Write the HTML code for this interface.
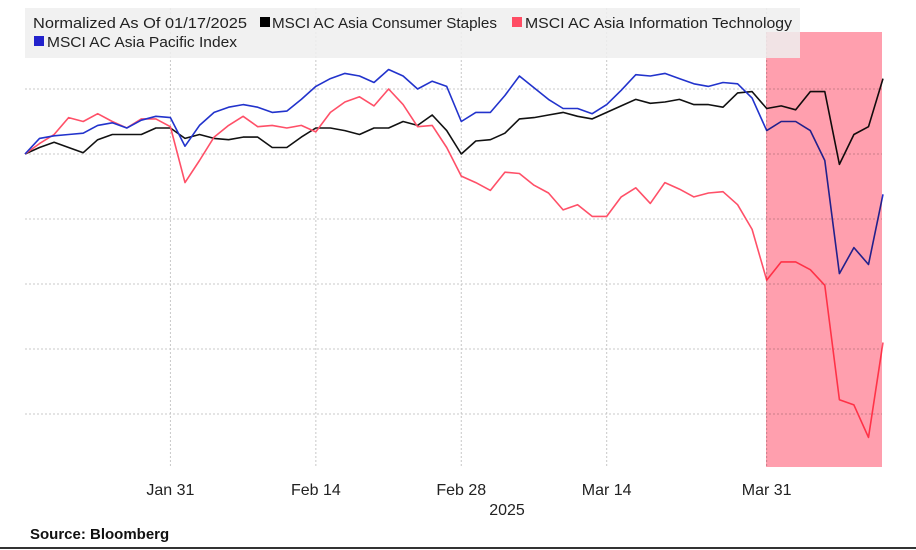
<!DOCTYPE html>
<html><head><meta charset="utf-8">
<style>
body{margin:0;background:#fff;width:916px;height:550px;overflow:hidden;font-family:"Liberation Sans","DejaVu Sans",sans-serif;}
svg{display:block}
</style></head>
<body>
<svg id="chart" width="916" height="550" xmlns="http://www.w3.org/2000/svg">
  <g id="grid"></g>
  <g id="lines"></g>
  <rect x="766" y="32" width="116" height="435" fill="#ff9fae" style="mix-blend-mode:multiply"/>
  <g>
    <rect x="25" y="8" width="775" height="50" fill="#efefef" opacity="0.85"/>
    <text x="33" y="28" font-size="15" fill="#222" textLength="214" lengthAdjust="spacingAndGlyphs">Normalized As Of 01/17/2025</text>
    <rect x="260" y="17" width="10" height="10" fill="#000"/>
    <text x="272" y="28" font-size="15" fill="#222" textLength="225" lengthAdjust="spacingAndGlyphs">MSCI AC Asia Consumer Staples</text>
    <rect x="512" y="17" width="10" height="10" fill="#ff4d64"/>
    <text x="525" y="28" font-size="15" fill="#222" textLength="267" lengthAdjust="spacingAndGlyphs">MSCI AC Asia Information Technology</text>
    <rect x="34" y="36" width="10" height="10" fill="#2222cc"/>
    <text x="47" y="47" font-size="15" fill="#222" textLength="190" lengthAdjust="spacingAndGlyphs">MSCI AC Asia Pacific Index</text>
  </g>
  <g id="xlabels"></g>
  <text x="507" y="515" font-size="16" text-anchor="middle" fill="#222">2025</text>
  <text x="30" y="539" font-size="15" font-weight="bold" fill="#111">Source: Bloomberg</text>
  <line x1="0" y1="548" x2="916" y2="548" stroke="#333" stroke-width="2"/>
</svg>
<script>
const blueVals=[100,101.2,101.4,101.5,101.6,102.2,102.4,102.0,102.6,102.9,102.8,100.6,102.2,103.2,103.6,103.8,103.6,103.2,103.3,104.2,105.2,105.8,106.2,106.0,105.5,106.5,106.0,105.0,105.6,105.2,102.5,103.2,103.2,104.5,106.0,105.1,104.2,103.5,103.5,103.1,103.8,104.9,106.1,106.0,106.2,105.8,105.4,105.2,105.5,105.4,104.3,101.8,102.5,102.5,101.8,99.5,90.8,92.8,91.5,96.9];
const blackVals=[100,100.5,100.9,100.5,100.1,101.1,101.5,101.5,101.5,102.0,102.0,101.2,101.5,101.2,101.1,101.3,101.3,100.5,100.5,101.3,102.0,102.0,101.8,101.5,102.0,102.0,102.5,102.2,103.0,101.8,100.0,101.0,101.1,101.6,102.7,102.8,103.0,103.2,102.9,102.7,103.2,103.7,104.2,103.9,104.0,104.2,103.8,103.8,103.6,104.7,104.8,103.5,103.7,103.4,104.8,104.8,99.2,101.5,102.1,105.8];
const redVals=[100,100.8,101.5,102.8,102.5,103.1,102.5,102.0,102.7,102.7,102.1,97.8,99.5,101.3,102.2,102.9,102.1,102.2,102.0,102.2,101.7,103.2,104.0,104.4,103.7,105.0,103.8,102.1,102.2,100.5,98.3,97.8,97.2,98.6,98.5,97.6,97.0,95.7,96.1,95.2,95.2,96.7,97.4,96.2,97.8,97.3,96.7,97.0,97.1,96.1,94.2,90.3,91.7,91.7,91.1,89.9,81.1,80.7,78.2,85.5];
const yTicks=[105,100,95,90,85,80];
const xTickIdx=[10,20,30,40,51];
const xTickLabels=["Jan 31","Feb 14","Feb 28","Mar 14","Mar 31"];
const NS="http://www.w3.org/2000/svg";
const N=blueVals.length;
function xs(i){return 25+i*(883-25)/(N-1);}
function ys(v){return 154-(v-100)*13;}
const grid=document.getElementById('grid');
yTicks.forEach(t=>{
  const l=document.createElementNS(NS,'line');
  
  
  l.setAttribute('x1',25);l.setAttribute('x2',882);
  l.setAttribute('y1',ys(t));l.setAttribute('y2',ys(t));
  l.setAttribute('stroke','#c8c8c8');l.setAttribute('stroke-dasharray','2,2');
  grid.appendChild(l);
});
const xl=document.getElementById('xlabels');
xTickIdx.forEach((ix,k)=>{
  const l=document.createElementNS(NS,'line');
  
  
  l.setAttribute('x1',xs(ix));l.setAttribute('x2',xs(ix));
  l.setAttribute('y1',8);l.setAttribute('y2',467);
  l.setAttribute('stroke','#c8c8c8');l.setAttribute('stroke-dasharray','2,2');
  grid.appendChild(l);
  const t=document.createElementNS(NS,'text');
  
  
  t.setAttribute('x',xs(ix));t.setAttribute('y',495);
  t.setAttribute('font-size','16');t.setAttribute('text-anchor','middle');t.setAttribute('fill','#222');
  t.textContent=xTickLabels[k];
  xl.appendChild(t);
});
const lines=document.getElementById('lines');
function draw(vals,color,name){
  const p=document.createElementNS(NS,'polyline');
  
  
  p.setAttribute('points',vals.map((v,i)=>xs(i).toFixed(1)+','+ys(v).toFixed(1)).join(' '));
  p.setAttribute('fill','none');p.setAttribute('stroke',color);p.setAttribute('stroke-width','1.6');
  p.setAttribute('stroke-linejoin','round');
  lines.appendChild(p);
}
draw(blackVals,'#111','line-consumer-staples');
draw(redVals,'#ff5068','line-information-technology');
draw(blueVals,'#2233cc','line-asia-pacific-index');
</script>
</body></html>
